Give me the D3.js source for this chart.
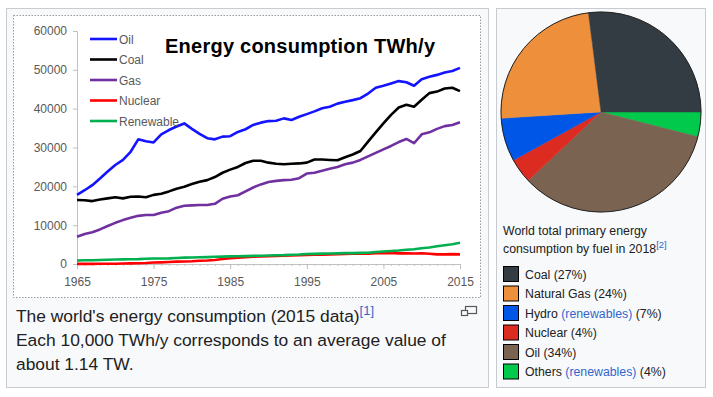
<!DOCTYPE html>
<html>
<head>
<meta charset="utf-8">
<script src="https://cdn.jsdelivr.net/npm/d3@7"></script>
<style>
  body { margin: 0; background: #fff; }
  svg { display: block; font-family: "Liberation Sans", Arial, sans-serif; }
</style>
</head>
<body>
<div id="canvas"></div>
<script>
// ---- data: line chart (TWh/y) ----
var years = d3.range(1965, 2016);
var seriesNames = ["Oil", "Coal", "Gas", "Nuclear", "Renewable"];
var seriesColors = ["#1414ff", "#000000", "#7030a0", "#ff0000", "#00b050"];
var oil = [17800, 19000, 20300, 22000, 23800, 25500, 26800, 28900, 32100, 31600,
  31300, 33400, 34500, 35400, 36200, 34800, 33500, 32400, 32100, 32800,
  32900, 34000, 34700, 35800, 36400, 36800, 36900, 37500, 37100, 37900,
  38600, 39300, 40100, 40500, 41300, 41800, 42200, 42700, 43900, 45400,
  45900, 46500, 47100, 46800, 45900, 47600, 48200, 48700, 49300, 49700, 50500];
var coal = [16500, 16400, 16200, 16600, 16900, 17200, 16900, 17300, 17400, 17200,
  17800, 18100, 18700, 19400, 19900, 20600, 21200, 21600, 22400, 23500,
  24300, 25000, 26000, 26600, 26600, 26100, 25800, 25700, 25800, 25900,
  26100, 26900, 26900, 26800, 26700, 27500, 28200, 29100, 31500, 33900,
  36200, 38400, 40300, 41000, 40500, 42300, 44000, 44400, 45200, 45400, 44500];
var gas = [7000, 7700, 8200, 8900, 9800, 10600, 11300, 11900, 12400, 12600,
  12600, 13200, 13600, 14500, 15000, 15100, 15200, 15200, 15500, 16800,
  17400, 17700, 18700, 19700, 20500, 21100, 21400, 21600, 21700, 22100,
  23300, 23500, 24000, 24500, 25000, 25700, 26100, 26800, 27700, 28600,
  29500, 30400, 31400, 32200, 31100, 33400, 33900, 34800, 35500, 35800, 36500];
var nuclear = [25, 35, 45, 55, 65, 80, 110, 150, 200, 260,
  370, 420, 510, 600, 640, 710, 830, 900, 1020, 1270,
  1490, 1600, 1720, 1880, 1930, 2000, 2100, 2120, 2190, 2260,
  2330, 2410, 2390, 2430, 2520, 2580, 2650, 2700, 2640, 2770,
  2790, 2820, 2740, 2740, 2700, 2770, 2650, 2470, 2490, 2540, 2490];
var renewable = [900, 960, 980, 1030, 1090, 1140, 1180, 1230, 1250, 1370,
  1400, 1420, 1460, 1560, 1640, 1680, 1720, 1770, 1850, 1910,
  1960, 2000, 2030, 2100, 2130, 2200, 2260, 2280, 2390, 2440,
  2560, 2620, 2680, 2700, 2740, 2820, 2800, 2860, 2900, 3100,
  3220, 3360, 3480, 3680, 3780, 4050, 4250, 4550, 4850, 5100, 5450];
var yTicks = [0, 10000, 20000, 30000, 40000, 50000, 60000];
var xTicks = [1965, 1975, 1985, 1995, 2005, 2015];

// ---- data: pie (2018 shares, %) ----
var fuels = ["Coal", "Natural Gas", "Hydro", "Nuclear", "Oil", "Others"];
var fuelShare = [27, 24, 7, 4, 34, 4];
var fuelColors = ["#333c43", "#ed8f3b", "#0057e7", "#dc2b21", "#7b6352", "#00c94b"];
var fuelRenew = [false, false, true, false, false, true];

var width = 713, height = 397;
var textColor = "#202122", linkColor = "#3366cc";

var svg = d3.select("#canvas").append("svg")
  .attr("width", width)
  .attr("height", height);

// panels
svg.append("rect").attr("x", 6.5).attr("y", 8.5).attr("width", 482).attr("height", 379)
  .attr("fill", "#f8f9fa").attr("stroke", "#c8ccd1");
svg.append("rect").attr("x", 496.5).attr("y", 8.5).attr("width", 209).attr("height", 379)
  .attr("fill", "#f8f9fa").attr("stroke", "#c8ccd1");

// chart image frame
svg.append("rect").attr("x", 13.5).attr("y", 15.5).attr("width", 467).attr("height", 282)
  .attr("fill", "#fff").attr("stroke", "#9a9a9a").attr("stroke-dasharray", "1.5,1.5");

var x = d3.scaleLinear().domain([1965, 2015]).range([77, 460]);
var y = d3.scaleLinear().domain([0, 60000]).range([264, 31]);

var chart = svg.append("g");

// y axis
var yAxis = chart.append("g").attr("transform", "translate(77,0)")
  .call(d3.axisLeft(y).tickValues(yTicks).tickSize(4).tickPadding(6).tickFormat(d3.format("d")));
yAxis.select(".domain").attr("stroke", "#c0c0c0");
yAxis.selectAll(".tick line").attr("stroke", "#c0c0c0");
yAxis.selectAll("text").attr("fill", "#595959").attr("font-size", 12)
  .attr("font-family", "Liberation Sans, Arial, sans-serif");

// x axis minor ticks (each year)
chart.append("g").attr("transform", "translate(0,264)")
  .call(d3.axisBottom(x).tickValues(years).tickSize(2).tickFormat(""))
  .call(function (g) {
    g.select(".domain").remove();
    g.selectAll(".tick line").attr("stroke", "#c8c8c8");
  });
var xAxis = chart.append("g").attr("transform", "translate(0,264)")
  .call(d3.axisBottom(x).tickValues(xTicks).tickSize(5).tickPadding(8).tickFormat(d3.format("d")));
xAxis.select(".domain").attr("stroke", "#c0c0c0");
xAxis.selectAll(".tick line").attr("stroke", "#c0c0c0");
xAxis.selectAll("text").attr("fill", "#595959").attr("font-size", 12)
  .attr("font-family", "Liberation Sans, Arial, sans-serif");

// lines
var allSeries = [oil, coal, gas, nuclear, renewable];
var line = d3.line()
  .x(function (d, i) { return x(years[i]); })
  .y(function (d) { return y(d); });

chart.selectAll(".series").data(allSeries).enter().append("path")
  .attr("class", "series")
  .attr("fill", "none")
  .attr("stroke", function (d, i) { return seriesColors[i]; })
  .attr("stroke-width", 2.6)
  .attr("stroke-linejoin", "round")
  .attr("d", line);

// legend
var leg = chart.selectAll(".leg").data(seriesNames).enter().append("g")
  .attr("class", "leg")
  .attr("transform", function (d, i) { return "translate(90," + (39 + i * 20.5) + ")"; });
leg.append("line").attr("x1", 0).attr("x2", 27).attr("y1", 0).attr("y2", 0)
  .attr("stroke", function (d, i) { return seriesColors[i]; }).attr("stroke-width", 2.6);
leg.append("text").attr("x", 29).attr("y", 4.5)
  .attr("fill", "#595959").attr("font-size", 12)
  .text(function (d) { return d; });

// title
chart.append("text").attr("x", 165).attr("y", 53)
  .attr("font-size", 20).attr("font-weight", "bold").attr("fill", "#000")
  .attr("textLength", 270)
  .text("Energy consumption TWh/y");

// caption
var cap = svg.append("g").attr("fill", textColor).attr("font-size", 17.4);
var c1 = cap.append("text").attr("x", 16).attr("y", 322);
c1.append("tspan").text("The world's energy consumption (2015 data)");
c1.append("tspan").attr("dy", -7).attr("font-size", 13).attr("fill", linkColor).text("[1]");
cap.append("text").attr("x", 16).attr("y", 346).text("Each 10,000 TWh/y corresponds to an average value of");
cap.append("text").attr("x", 16).attr("y", 370).text("about 1.14 TW.");

// enlarge icon
var icon = svg.append("g").attr("fill", "none").attr("stroke", "#54595d").attr("stroke-width", 1.2);
icon.append("rect").attr("x", 465.5).attr("y", 306.5).attr("width", 11).attr("height", 7);
icon.append("rect").attr("x", 461.5).attr("y", 310.5).attr("width", 6).attr("height", 5).attr("fill", "#f8f9fa");

// pie
var pieData = fuelShare.map(function (v, i) { return {name: fuels[i], value: v, color: fuelColors[i]}; }).reverse();
var pie = d3.pie().sort(null).value(function (d) { return d.value; })
  .startAngle(Math.PI / 2).endAngle(Math.PI / 2 + 2 * Math.PI);
var arc = d3.arc().innerRadius(0).outerRadius(100);
var pg = svg.append("g").attr("transform", "translate(601,112)");
pg.selectAll("path").data(pie(pieData)).enter().append("path")
  .attr("d", arc)
  .attr("fill", function (d) { return d.data.color; })
  .attr("stroke", function (d) { return d.data.color; })
  .attr("stroke-width", 0.5);
pg.append("circle").attr("r", 100).attr("fill", "none").attr("stroke", "#222").attr("stroke-width", 1);

// pie caption and legend
var pc = svg.append("g").attr("fill", textColor).attr("font-size", 12.3);
pc.append("text").attr("x", 503).attr("y", 235).text("World total primary energy");
var pl2 = pc.append("text").attr("x", 503).attr("y", 253);
pl2.append("tspan").text("consumption by fuel in 2018");
pl2.append("tspan").attr("dy", -5).attr("font-size", 9.5).attr("fill", linkColor).text("[2]");

var rows = pc.selectAll(".prow").data(fuels).enter().append("g")
  .attr("class", "prow")
  .attr("transform", function (d, i) { return "translate(503," + (266 + i * 19.5) + ")"; });
rows.append("rect").attr("x", 0.5).attr("y", 0.5).attr("width", 15).attr("height", 15)
  .attr("fill", function (d, i) { return fuelColors[i]; })
  .attr("stroke", "#000");
rows.each(function (d, i) {
  var t = d3.select(this).append("text").attr("x", 22).attr("y", 12.5);
  t.append("tspan").text(d + " ");
  if (fuelRenew[i]) {
    t.append("tspan").attr("fill", linkColor).text("(renewables)");
    t.append("tspan").text(" ");
  }
  t.append("tspan").text("(" + fuelShare[i] + "%)");
});
</script>
</body>
</html>
